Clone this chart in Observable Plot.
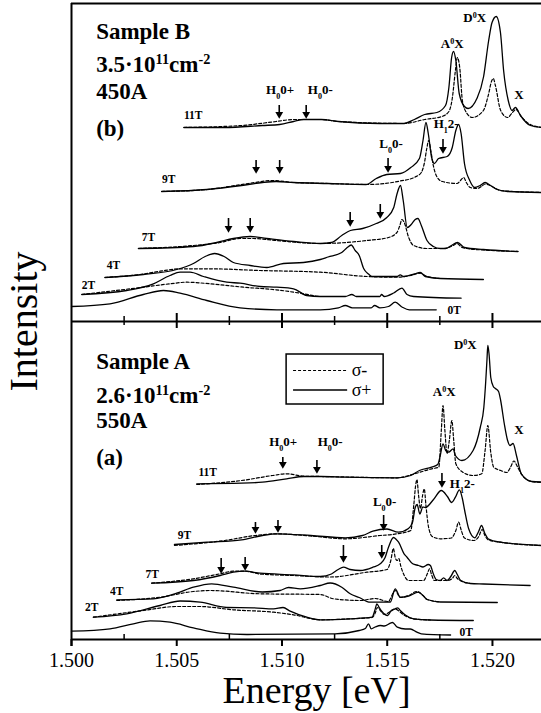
<!DOCTYPE html>
<html>
<head>
<meta charset="utf-8">
<script src="https://cdn.jsdelivr.net/npm/d3@7"></script>
<script src="https://cdn.jsdelivr.net/npm/@observablehq/plot@0.6"></script>
<style>
  html, body { margin: 0; padding: 0; background: #fff; }
  #chart { width: 541px; height: 713px; }
  #chart svg text { font-family: "Liberation Serif", "Times New Roman", Times, serif; opacity: 0.995; }
</style>
</head>
<body>
<div id="chart"></div>
<script>
// ---------- axis ticks ----------
const energyTicks = [1.500, 1.505, 1.510, 1.515, 1.520];
const minorTicks = [1.5025, 1.5075, 1.5125, 1.5175];
const dividerTicks = [1.505, 1.510, 1.515, 1.520];

// ---------- Sample B (450A) spectra: [energy eV, stacked intensity a.u.] ----------
const B11_plus = [[1.50534,512],[1.50727,512],[1.50907,514],[1.50989,515],[1.51055,518],[1.51104,520],[1.51186,520],[1.51268,518],[1.51465,516],[1.5158,516],[1.51629,520],[1.51678,525],[1.51736,527],[1.51777,534],[1.51793,552],[1.51806,582],[1.51815,588],[1.51826,579],[1.51842,546],[1.51867,533],[1.51884,531],[1.51926,541],[1.51958,563],[1.51982,599],[1.51998,617],[1.52018,623],[1.52038,607],[1.52053,569],[1.52075,539],[1.52093,529],[1.52109,532],[1.52133,524],[1.5218,514],[1.52233,512]];
const B11_minus = [[1.50534,512],[1.50808,514],[1.50972,518],[1.51055,520],[1.51186,520],[1.51268,518],[1.5158,516],[1.51678,520],[1.5176,523],[1.51793,528],[1.51809,541],[1.51824,569],[1.51833,582],[1.51845,571],[1.51857,539],[1.51876,527],[1.51904,522],[1.51957,529],[1.5198,544],[1.51997,559],[1.52004,561],[1.52014,554],[1.52039,529],[1.52072,522],[1.52095,527],[1.52112,530],[1.52137,523],[1.52171,516],[1.52233,512]];
const B9_plus = [[1.50428,448],[1.50644,450],[1.50808,454],[1.50907,457],[1.50972,458],[1.51055,457],[1.51219,456],[1.51399,455],[1.51448,461],[1.51498,465],[1.51563,466],[1.51612,472],[1.51653,481],[1.5167,499],[1.51684,517],[1.51695,506],[1.51711,482],[1.51724,476],[1.51744,481],[1.51785,483],[1.51809,492],[1.51826,509],[1.51839,515],[1.51851,506],[1.51867,476],[1.51892,459],[1.51916,452],[1.51941,454],[1.51965,457],[1.5199,454],[1.52023,450],[1.52072,448],[1.52233,447]];
const B9_minus = [[1.50428,448],[1.50644,450],[1.50841,456],[1.50956,459],[1.51055,457],[1.51219,456],[1.51404,455],[1.51562,458.5],[1.51633,462.5],[1.51662,467],[1.51676,476],[1.51688,491],[1.51697,499],[1.51707,489],[1.51719,474],[1.51738,462],[1.51762,458],[1.51832,456],[1.51852,460],[1.51863,462],[1.51876,457],[1.51895,452],[1.51927,451],[1.51947,453],[1.51966,455.5],[1.5199,454],[1.52038,449],[1.52233,447]];
const B7_plus = [[1.50318,391],[1.50579,393],[1.5069,397],[1.50769,401],[1.50849,403],[1.50928,401],[1.51055,398],[1.51182,396],[1.51235,397],[1.51284,404],[1.51325,409],[1.51383,411],[1.51448,416],[1.51498,422],[1.51531,432],[1.51547,446],[1.51563,454],[1.51576,439],[1.51595,412],[1.51614,415],[1.51633,420],[1.51646,421],[1.51662,414],[1.51689,399],[1.51719,393],[1.51752,391],[1.51777,391],[1.51805,394],[1.51834,397],[1.51867,392],[1.51957,390],[1.52121,388]];
const B7_minus = [[1.50318,391],[1.50579,394],[1.50706,397],[1.50801,401],[1.50864,401],[1.50972,399],[1.51182,396],[1.51404,399],[1.51506,402],[1.51546,407],[1.5156,414],[1.5157,420],[1.51581,417],[1.51602,402],[1.51625,394],[1.51689,391],[1.51768,391],[1.51809,393.5],[1.51832,396],[1.51852,392.5],[1.51879,391],[1.51957,389.5],[1.52121,388]];
const B4_plus = [[1.50159,362],[1.50341,365],[1.505,370],[1.50579,376],[1.50635,383],[1.5068,386],[1.50725,383],[1.50769,377],[1.50849,374],[1.50928,372],[1.51007,376],[1.51102,377],[1.51182,380],[1.51219,382.5],[1.51284,387],[1.5131,392],[1.51329,394.5],[1.51348,389],[1.51367,384],[1.51388,371],[1.51411,365.5],[1.51428,363],[1.51546,363],[1.51562,364.7],[1.51578,363],[1.51629,365.5],[1.51657,367],[1.51681,363],[1.51752,361],[1.51957,360]];
const B4_minus = [[1.50159,362],[1.50341,365.5],[1.50421,368.3],[1.50516,370.7],[1.50659,370.7],[1.50896,369],[1.51182,367.3],[1.51404,363],[1.51546,362.3],[1.5161,364],[1.51657,366.3],[1.51689,363],[1.51752,361]];
const B2_plus = [[1.50049,345],[1.50262,349],[1.50389,355.7],[1.50468,364],[1.50516,367.3],[1.50563,367.3],[1.50627,363],[1.50738,357.3],[1.50801,356.3],[1.50896,353],[1.50976,352.3],[1.51055,350.7],[1.51118,344],[1.51182,343],[1.51301,343],[1.51332,345],[1.51353,343],[1.51465,343],[1.51473,345],[1.51486,343],[1.51531,346.5],[1.5157,351.3],[1.51594,345],[1.51625,343],[1.51851,341.3]];
const B2_minus = [[1.50049,345],[1.50341,352.3],[1.50468,355.7],[1.50548,357.3],[1.50659,355.7],[1.50817,352.3],[1.50972,349.7],[1.51104,345.7],[1.51182,343],[1.51301,343]];
const B0_plus = [[1.5,333],[1.50183,335.7],[1.50341,345],[1.50437,349],[1.50516,346.3],[1.50643,339],[1.50801,331.7],[1.50976,329.7],[1.51182,329.7],[1.51268,331.7],[1.51301,334],[1.51334,331.7],[1.51424,331.7],[1.5144,334],[1.51465,331.7],[1.51506,333],[1.51538,337.3],[1.51572,332.3],[1.51605,329.7],[1.51733,329.7]];

// ---------- Sample A (550A) spectra ----------
const A11_plus = [[1.50595,155.7],[1.50808,156.3],[1.50907,157.3],[1.51022,160.7],[1.51104,163],[1.51186,163],[1.51301,162.3],[1.51547,161.7],[1.51612,164],[1.51653,169],[1.51711,172.3],[1.5174,175],[1.51752,184],[1.51765,195.7],[1.51778,189],[1.51792,187.3],[1.51813,190.7],[1.51824,184],[1.51855,179],[1.51908,189],[1.51942,212],[1.51959,232],[1.51968,258],[1.51974,280],[1.51978,294],[1.51984,285],[1.51992,262],[1.52004,253],[1.52014,251],[1.52029,248],[1.52039,239],[1.52056,216],[1.52072,199],[1.52083,194],[1.52098,196],[1.52114,184],[1.52137,165.7],[1.52187,158],[1.52233,157.5]];
const A11_minus = [[1.50595,155],[1.50808,159],[1.50956,164],[1.51022,165.7],[1.51104,163.3],[1.51186,163],[1.51547,161.7],[1.51629,165.7],[1.51711,170.7],[1.51745,172.3],[1.51757,209],[1.51765,234],[1.51774,209],[1.51784,186],[1.51795,199],[1.51807,219],[1.51816,199],[1.51826,175.7],[1.51859,167.3],[1.51908,164],[1.51949,165.7],[1.51965,189],[1.51978,214],[1.51992,187],[1.52006,172.3],[1.52039,169],[1.52068,167],[1.52085,172],[1.52102,178.5],[1.52118,173],[1.52137,165.7],[1.52187,158],[1.52233,157]];
const A9_plus = [[1.50489,95],[1.50644,97.3],[1.50808,99.7],[1.50907,104],[1.50972,105.7],[1.51137,104],[1.51301,101.7],[1.51383,104],[1.51432,108.3],[1.51499,110.5],[1.51553,107.3],[1.51601,111],[1.5162,117],[1.51633,132],[1.51642,135],[1.51655,125.5],[1.51669,132.5],[1.51681,132],[1.5172,140],[1.51757,149],[1.51786,143],[1.51806,137],[1.51824,142.3],[1.51843,149.7],[1.51857,141],[1.51868,129],[1.51887,110.7],[1.51916,101.7],[1.51934,108],[1.51948,114],[1.51964,106],[1.51981,100.5],[1.52038,97.3],[1.52233,94]];
const A9_minus = [[1.50489,94],[1.50727,99],[1.50874,104],[1.50972,105.7],[1.51137,103.5],[1.51301,100.7],[1.51467,104],[1.51547,105.7],[1.51612,109],[1.51626,134],[1.51635,154],[1.51641,160],[1.51649,144],[1.51658,131],[1.51668,144],[1.51676,150.7],[1.51684,134],[1.51695,114],[1.51714,103],[1.51752,100.7],[1.51804,101.5],[1.51826,109],[1.51839,117.3],[1.51852,109],[1.51867,101.5],[1.51911,99],[1.51935,103],[1.51951,110],[1.51964,104],[1.51981,99.5],[1.52038,97.3],[1.52233,94]];
const A7_plus = [[1.50381,56.3],[1.50579,59],[1.50706,64],[1.50769,67.3],[1.50825,68.3],[1.50896,66.3],[1.51055,64.7],[1.51182,63],[1.51235,65.5],[1.51267,70],[1.51292,72.3],[1.51324,70],[1.51372,69],[1.51432,72.3],[1.51467,75.7],[1.5149,82],[1.51506,92.3],[1.5153,102],[1.51543,100],[1.51554,97.3],[1.5158,85.7],[1.51594,82.3],[1.51621,75.7],[1.51649,74],[1.5167,72.5],[1.51695,75],[1.51705,74],[1.51719,65.7],[1.51733,60],[1.51752,59],[1.51768,61.7],[1.51784,59],[1.51802,63],[1.51821,69],[1.51833,65],[1.51849,59],[1.51895,56],[1.51957,55.5],[1.52179,54]];
const A7_minus = [[1.50381,56.3],[1.50579,60.7],[1.50706,65.7],[1.50769,68.3],[1.50825,68.3],[1.50896,65.5],[1.51055,64],[1.51229,62.5],[1.51404,67.3],[1.51499,70],[1.51517,79],[1.51529,91],[1.51538,82],[1.51547,79],[1.51555,81],[1.51565,73],[1.51581,64],[1.51602,59],[1.51673,59],[1.51691,66],[1.51701,70.7],[1.51712,64],[1.51724,59],[1.51784,59],[1.51809,61],[1.51821,64],[1.51833,61],[1.51847,59],[1.51895,56]];
const A4_plus = [[1.50215,39.7],[1.50389,40.7],[1.505,46.3],[1.50579,52.3],[1.50666,55.7],[1.50769,52.3],[1.50907,47.5],[1.50991,49],[1.51031,52],[1.51087,50.7],[1.51182,54],[1.51229,56.5],[1.51284,52.3],[1.51324,45.7],[1.51367,42],[1.51419,37.3],[1.51515,37.5],[1.51538,50.7],[1.51562,42.3],[1.51602,43.5],[1.51648,47.3],[1.5167,44],[1.5169,40],[1.51752,37.5],[1.52023,37]];
const A4_minus = [[1.50215,39],[1.50421,42.3],[1.50579,48],[1.50659,49],[1.50896,45.7],[1.51182,45],[1.51245,40.7],[1.51372,39],[1.51443,41],[1.51504,38],[1.51538,49],[1.51562,42],[1.51602,44],[1.51641,48],[1.5167,44],[1.5169,40],[1.51752,37.5]];
const A2_plus = [[1.50104,22.3],[1.50262,25.7],[1.50421,34],[1.50516,38.5],[1.50611,37.3],[1.50738,32],[1.50864,31.7],[1.5096,30.7],[1.51005,32],[1.51039,28.3],[1.51118,22.3],[1.51182,19.7],[1.51324,20.7],[1.51428,22.3],[1.51441,29],[1.51451,35.7],[1.51462,32],[1.51475,28],[1.51502,24],[1.51519,29],[1.51538,30.7],[1.5155,31.7],[1.51562,29],[1.51586,24.5],[1.51625,20.7],[1.51705,19.5],[1.51909,19]];
const A2_minus = [[1.50104,22.3],[1.50341,29],[1.505,33],[1.50611,33],[1.50769,29.7],[1.5096,27.3],[1.51055,24.7],[1.51182,19.7],[1.51324,20.7],[1.51428,22],[1.51444,27],[1.51453,32],[1.51467,29],[1.51486,25],[1.51515,28],[1.5154,30.5],[1.51552,29],[1.51576,25],[1.51625,20.7],[1.51705,19.5]];
const A0_plus = [[1.5,8.3],[1.50183,10.7],[1.50294,15.7],[1.50373,18.7],[1.50468,17.3],[1.50579,11.7],[1.50706,6.3],[1.50833,5],[1.51252,5.7],[1.51367,9],[1.51396,11],[1.51411,15.7],[1.51424,10.7],[1.51443,12.5],[1.51467,14],[1.51486,13.5],[1.51515,16.3],[1.51525,17],[1.51548,12.3],[1.51586,10.5],[1.5161,10.5],[1.51641,7.3],[1.51662,5.7],[1.51801,4.5]];

// ---------- labels: [text, energy, intensity] ----------
const fieldLabelsB = [["11T",1.50534,521],["9T",1.5043,457],["7T",1.50334,399],["4T",1.50167,371],["2T",1.50049,351],["0T",1.51786,326]];
const fieldLabelsA = [["11T",1.50603,164],["9T",1.50505,101],["7T",1.50352,62],["4T",1.50183,45],["2T",1.50064,29],["0T",1.51843,4]];
const peakLabelsB = [["D^{0}X",1.51916,618],["A^{0}X",1.51809,592],["X",1.52126,541],["H_{0}0+",1.50991,546],["H_{0}0-",1.51182,546],["L_{0}0-",1.51518,492],["H_{1}2-",1.5178,512]];
const peakLabelsA = [["D^{0}X",1.51871,291],["A^{0}X",1.51771,244],["X",1.52126,206],["H_{0}0+",1.51006,194],["H_{0}0-",1.51229,194],["L_{0}0-",1.51488,134],["H_{1}2-",1.51857,152]];
const sampleTextB = [["Sample B",601],["3.5·10^{11}cm^{-2}",568],["450A",541],["(b)",504]];
const sampleTextA = [["Sample A",271],["2.6·10^{11}cm^{-2}",237],["550A",212],["(a)",175]];
// arrows: [energy, top intensity, tip intensity]
const arrowsB = [[1.50987,534,521],[1.51115,534,521],[1.50877,479,466],[1.50989,479,466],[1.51504,481,467],[1.51765,500,486],[1.50746,421,407],[1.50849,421,407],[1.51324,427,413],[1.51467,435,421]];
const arrowsA = [[1.51004,182,171],[1.51166,179,166],[1.50874,117,106],[1.50981,119,107],[1.51483,124,109],[1.5176,166,152],[1.50711,81,66],[1.50825,82,69],[1.51292,94,77],[1.51474,94,81]];
const legendItems = [["σ-", "dashed"], ["σ+", "solid"]];

// ---------- assemble ----------
const series = [
  ["B","11T","σ+",B11_plus],["B","11T","σ-",B11_minus],
  ["B","9T","σ+",B9_plus],["B","9T","σ-",B9_minus],
  ["B","7T","σ+",B7_plus],["B","7T","σ-",B7_minus],
  ["B","4T","σ+",B4_plus],["B","4T","σ-",B4_minus],
  ["B","2T","σ+",B2_plus],["B","2T","σ-",B2_minus],
  ["B","0T","σ+",B0_plus],
  ["A","11T","σ+",A11_plus],["A","11T","σ-",A11_minus],
  ["A","9T","σ+",A9_plus],["A","9T","σ-",A9_minus],
  ["A","7T","σ+",A7_plus],["A","7T","σ-",A7_minus],
  ["A","4T","σ+",A4_plus],["A","4T","σ-",A4_minus],
  ["A","2T","σ+",A2_plus],["A","2T","σ-",A2_minus],
  ["A","0T","σ+",A0_plus]
];
const rows = series.flatMap(([panel, field, pol, pts]) =>
  pts.map(([E, I]) => ({panel, field, pol, key: panel + field + pol, E, I})));
const solid = rows.filter(d => d.pol === "σ+");
const dashed = rows.filter(d => d.pol === "σ-");
const fieldLabels = fieldLabelsB.concat(fieldLabelsA);
const peakLabels = peakLabelsB.concat(peakLabelsA);
const sampleText = sampleTextB.concat(sampleTextA);
const arrows = arrowsB.concat(arrowsA);

const legendBox = {x1: 1.51022, x2: 1.51483, y1: 235, y2: 285};
const legendRows = legendItems.map(([label, style], i) => ({label, style, y: 269 - i * 19.5}));

const TOP = 636, DIV = 318;
const serif = "Liberation Serif";
const T = {fontFamily: serif, fill: "#000"};

const chart = Plot.plot({
  width: 541, height: 713,
  marginLeft: 71, marginRight: 0, marginTop: 3, marginBottom: 74,
  x: {domain: [1.5, 1.52233], axis: null},
  y: {domain: [0, TOP], axis: null},
  style: {background: "#fff", color: "#000", overflow: "visible"},
  marks: [
    // frame and divider
    Plot.ruleY([0, DIV, TOP], {stroke: "#000", strokeWidth: 2}),
    Plot.ruleX([1.5], {y1: -7, y2: TOP, stroke: "#000", strokeWidth: 2}),
    // bottom axis ticks
    Plot.ruleX(energyTicks, {y1: 0, y2: -7, stroke: "#000", strokeWidth: 2}),
    Plot.ruleX(minorTicks, {y1: 0, y2: 5, stroke: "#000", strokeWidth: 1.5}),
    // divider ticks
    Plot.ruleX(dividerTicks, {y1: DIV - 7, y2: DIV + 8, stroke: "#000", strokeWidth: 2}),
    Plot.ruleX(minorTicks, {y1: DIV - 4, y2: DIV + 5, stroke: "#000", strokeWidth: 1.5}),
    Plot.text(energyTicks, {...T, x: d => d, y: 0, text: d3.format(".3f"), lineAnchor: "bottom", dy: 27, fontSize: 20}),
    // spectra
    Plot.line(dashed, {x: "E", y: "I", z: "key", curve: "monotone-x", stroke: "#000", strokeWidth: 1.2, strokeDasharray: "3,2"}),
    Plot.line(solid, {x: "E", y: "I", z: "key", curve: "monotone-x", stroke: "#000", strokeWidth: 1.3}),
    // arrows
    Plot.ruleX(arrows, {x: d => d[0], y1: d => d[1], y2: d => d[2] + 4, stroke: "#000", strokeWidth: 1.6}),
    Plot.dot(arrows, {x: d => d[0], y: d => d[2] + 4.3, symbol: "triangle", rotate: 180, r: 2.9, fill: "#000", stroke: "none"}),
    // labels
    Plot.text(fieldLabels, {...T, x: d => d[1], y: d => d[2], text: d => d[0], textAnchor: "start", lineAnchor: "bottom", fontSize: 11.5, fontWeight: "bold"}),
    Plot.text(peakLabels, {...T, x: d => d[1], y: d => d[2], text: d => d[0], lineAnchor: "bottom", fontSize: 13, fontWeight: "bold"}),
    Plot.text(sampleText, {...T, x: 1.50117, y: d => d[1], text: d => d[0], textAnchor: "start", lineAnchor: "bottom", fontSize: 23, fontWeight: "bold"}),
    // legend
    Plot.rect([legendBox], {x1: "x1", x2: "x2", y1: "y1", y2: "y2", fill: "#fff", stroke: "#000", strokeWidth: 1.5}),
    Plot.ruleY(legendRows.filter(d => d.style === "dashed"), {y: "y", x1: 1.51055, x2: 1.51312, stroke: "#000", strokeWidth: 1.2, strokeDasharray: "3,2"}),
    Plot.ruleY(legendRows.filter(d => d.style === "solid"), {y: "y", x1: 1.51055, x2: 1.51312, stroke: "#000", strokeWidth: 1.3}),
    Plot.text(legendRows, {...T, x: 1.51331, y: "y", text: "label", textAnchor: "start", fontSize: 18}),
    // axis titles
    Plot.text(["Energy [eV]"], {...T, frameAnchor: "bottom", text: d => d, textAnchor: "middle", lineAnchor: "bottom", dx: 10, dy: 63, fontSize: 38}),
    Plot.text(["Intensity"], {...T, frameAnchor: "left", text: d => d, textAnchor: "middle", lineAnchor: "middle", rotate: -90, dx: -47, fontSize: 40})
  ]
});

// super/subscript rendering for tokens like ^{11} and _{0}
chart.querySelectorAll("text").forEach(t => {
  const s = t.textContent;
  if (!/[\^_]\{/.test(s)) return;
  while (t.firstChild) t.removeChild(t.firstChild);
  const re = /([\^_])\{([^}]*)\}|([^\^_]+)/g;
  let m;
  while ((m = re.exec(s))) {
    const ts = document.createElementNS("http://www.w3.org/2000/svg", "tspan");
    if (m[1]) {
      ts.textContent = m[2];
      ts.setAttribute("baseline-shift", m[1] === "^" ? "super" : "sub");
      ts.setAttribute("font-size", "62%");
    } else ts.textContent = m[3];
    t.appendChild(ts);
  }
});

document.getElementById("chart").appendChild(chart);
</script>
</body>
</html>
